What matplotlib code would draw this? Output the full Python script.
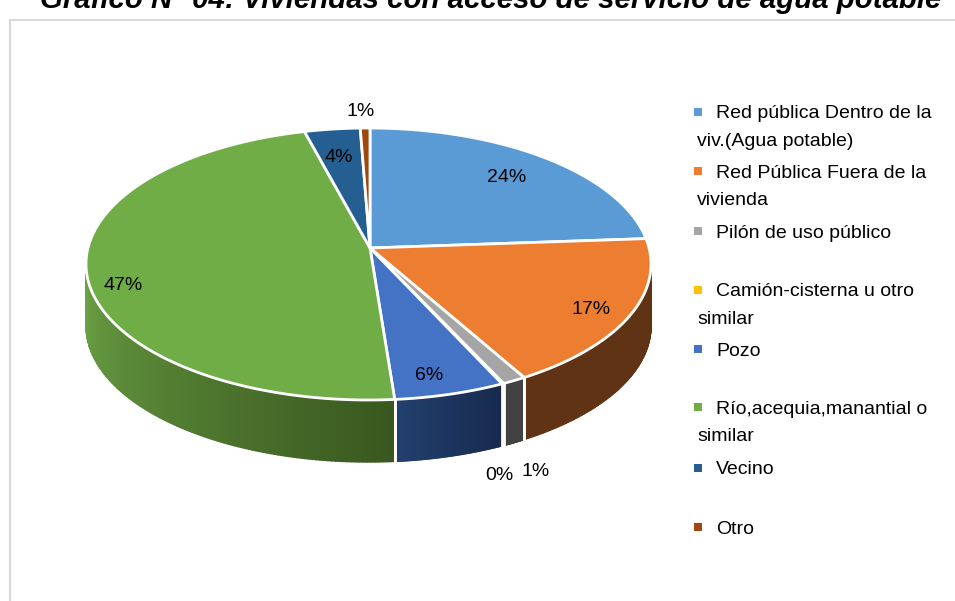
import numpy as np
import matplotlib
matplotlib.use("Agg")
import matplotlib.pyplot as plt
from matplotlib.patches import Polygon, Rectangle
from matplotlib.colors import to_rgb

labels = ["Red pública Dentro de la\nviv.(Agua potable)", "Red Pública Fuera de la\nvivienda",
          "Pilón de uso público", "Camión-cisterna u otro\nsimilar", "Pozo",
          "Río,acequia,manantial o\nsimilar", "Vecino", "Otro"]
# the picture prints them rounded
values = [24.0, 16.9, 1.3, 0.1, 6.3, 46.7, 4.0, 0.7]
colors = ["#5B9BD5", "#ED7D31", "#A5A5A5", "#FFC000", "#4472C4", "#70AD47", "#255E91", "#9E480E"]
side_left = ["#5B9BD5", "#5F3314", "#424242", "#7F6000", "#22406F", "#6BA244", "#163A5C", "#5F2C08"]
side_right = ["#5B9BD5", "#5F3314", "#424242", "#7F6000", "#172A4C", "#39571F", "#163A5C", "#5F2C08"]
title = "Gráfico N° 04: Viviendas con acceso de servicio de agua potable"

label_xy = [(507, 178), (591, 310), (536, 472), (499, 476), (429, 376), (123, 286), (339, 157), (361, 112)]
legend_y = [114, 173, 233, 292, 351, 409, 470, 529]

cx, cy, rx, ry = 368.5, 264.0, 282.5, 136.0
apex = np.array([370.0, 248.0])
depth = 62
squash = 1.85


def rim_angle(frac):
    # perspective: rays leave the apex, which sits above the centre of the rim
    th = np.pi / 2 - 2 * np.pi * frac
    dx, dy = np.cos(th), -np.sin(th) / squash
    ox, oy = (apex[0] - cx) / rx, (apex[1] - cy) / ry
    ux, uy = dx / rx, dy / ry
    a = ux ** 2 + uy ** 2
    b = 2 * (ox * ux + oy * uy)
    c = ox ** 2 + oy ** 2 - 1
    t = (-b + np.sqrt(b ** 2 - 4 * a * c)) / (2 * a)
    return np.arctan2(-(oy + t * uy), ox + t * ux)


def edge(ang):
    return cx + rx * np.cos(ang), cy - ry * np.sin(ang)


plt.rcParams["font.family"] = ["Liberation Sans", "DejaVu Sans"]
fig = plt.figure(figsize=(9.55, 6.01), dpi=100)
ax = fig.add_axes([0, 0, 1, 1])
ax.set_xlim(0, 955)
ax.set_ylim(601, 0)
ax.axis("off")

# chart frame, runs off the right and bottom of the picture
ax.plot([10, 10, 955], [601, 20, 20], color="#D9D9D9", lw=1.5)

cum = np.cumsum([0] + values) / 100
starts = np.array([rim_angle(f) for f in cum[:-1]])
ends = np.array([rim_angle(f) for f in cum[1:]])
# keep every slice running clockwise without a jump
ends = np.where(ends > starts, ends - 2 * np.pi, ends)

# side wall first
for i in range(len(values)):
    if values[i] < 0.5:
        continue
    a0, a1 = starts[i], ends[i]
    if a0 > np.pi / 2 + 0.01:
        a0, a1 = a0 - 2 * np.pi, a1 - 2 * np.pi
    hi, lo = min(a0, 0), max(a1, -np.pi)
    if hi <= lo:
        continue
    steps = np.linspace(hi, lo, 120)
    c0, c1 = np.array(to_rgb(side_right[i])), np.array(to_rgb(side_left[i]))
    for j in range(len(steps) - 1):
        x0, y0 = edge(steps[j])
        x1, y1 = edge(steps[j + 1])
        col = c0 + (c1 - c0) * j / (len(steps) - 2)
        ax.add_patch(Polygon([(x0, y0), (x1, y1), (x1, y1 + depth), (x0, y0 + depth)],
                             fc=col, ec=col, lw=1, zorder=2))
    # white seam at the slice borders
    for b in (hi, lo):
        if b not in (0, -np.pi):
            x, y = edge(b)
            ax.plot([x, x], [y, y + depth], color="white", lw=2, zorder=3)

# top of the pie
for i in range(len(values)):
    if values[i] < 0.5:
        continue
    ang = np.linspace(starts[i], ends[i], 160)
    pts = [tuple(apex)] + list(zip(*edge(ang)))
    ax.add_patch(Polygon(pts, fc=colors[i], ec="white", lw=2, joinstyle="round", zorder=4))

for v, (x, y) in zip(values, label_xy):
    ax.text(x, y, f"{v:.0f}%", ha="center", va="center", fontsize=14, color="black", zorder=5)

# legend, wrapped lines start further left than the first one
for lab, y, col in zip(labels, legend_y, colors):
    ax.add_patch(Rectangle((694, y - 6), 8, 8, fc=col, ec="none", zorder=5))
    parts = lab.split("\n")
    ax.text(716, y, parts[0], ha="left", va="center", fontsize=14, color="black")
    if len(parts) > 1:
        ax.text(697, y + 27.5, parts[1], ha="left", va="center", fontsize=14, color="black")

ax.text(491, 8, title, ha="center", va="baseline", fontsize=21.2, fontweight="bold",
        fontstyle="italic", color="black")

plt.savefig("out.png", dpi=100)
